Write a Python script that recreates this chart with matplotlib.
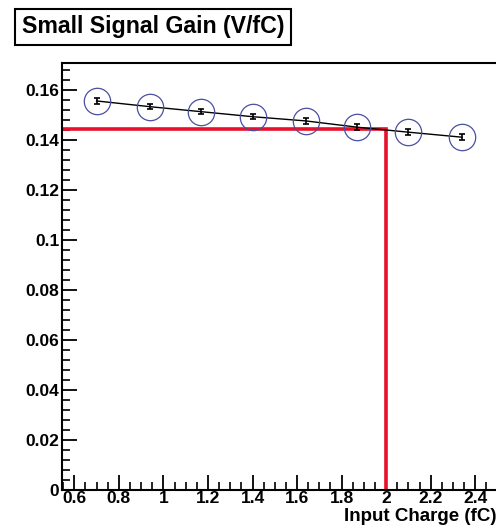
import numpy as np
import matplotlib.pyplot as plt
from matplotlib.ticker import MultipleLocator

# data
charge = [0.70, 0.94, 1.17, 1.40, 1.64, 1.87, 2.10, 2.34]
gain = [0.1556, 0.1533, 0.1513, 0.1493, 0.1476, 0.1451, 0.1431, 0.1411]
gain_err = [0.0012, 0.0011, 0.0011, 0.0010, 0.0011, 0.0011, 0.0011, 0.0012]

ref_charge = 2.0
ref_gain = 0.1444

xticks = [0.6, 0.8, 1.0, 1.2, 1.4, 1.6, 1.8, 2.0, 2.2, 2.4]
xtick_labels = ["0.6", "0.8", "1", "1.2", "1.4", "1.6", "1.8", "2", "2.2", "2.4"]
yticks = [0, 0.02, 0.04, 0.06, 0.08, 0.1, 0.12, 0.14, 0.16]
ytick_labels = ["0", "0.02", "0.04", "0.06", "0.08", "0.1", "0.12", "0.14", "0.16"]

plt.rcParams.update({
    "font.family": ["Liberation Sans", "DejaVu Sans"],
    "font.weight": "bold",
})

fig = plt.figure(figsize=(4.96, 5.29), dpi=100)
ax = fig.add_axes([0.125, 0.074, 0.876, 0.807])

x0, x1 = 0.545, 2.495
ax.set_xlim(x0, x1)
ax.set_ylim(0, 0.1708)

# markers and connecting line
ax.plot(charge, gain, color="black", lw=1, zorder=3)
ax.errorbar(charge, gain, yerr=gain_err, fmt="none", ecolor="black",
            elinewidth=1.2, capsize=2.5, capthick=1.2, zorder=4)
ax.plot(charge, gain, "o", mfc="none", mec="#4a4fa0", ms=19, mew=0.9, zorder=4)

# red guide lines
ax.plot([x0, ref_charge, ref_charge], [ref_gain, ref_gain, 0],
        color="#e8102a", lw=2.6, zorder=2, solid_joinstyle="miter")

ax.xaxis.set_minor_locator(MultipleLocator(0.05))
ax.yaxis.set_minor_locator(MultipleLocator(0.004))
ax.set_xticks(xticks)
ax.set_xticklabels(xtick_labels)
ax.set_yticks(yticks)
ax.set_yticklabels(ytick_labels)

ax.tick_params(which="both", direction="in", colors="black", labelsize=12.5)
ax.tick_params(which="major", length=11, width=1.3)
ax.tick_params(which="minor", length=6, width=1.2)
ax.tick_params(axis="x", pad=1)
ax.tick_params(axis="y", pad=2)

for s in ["left", "bottom", "top"]:
    ax.spines[s].set_linewidth(1.5)
ax.spines["right"].set_visible(False)

ax.set_xlabel("Input Charge (fC)", fontsize=13.5, fontweight="bold",
              loc="right", labelpad=1)

fig.text(0.044, 0.949, "Small Signal Gain (V/fC)", fontsize=16.7,
         fontweight="bold", va="center", ha="left",
         bbox=dict(boxstyle="square,pad=0.3", fc="white", ec="black", lw=1.5))

fig.savefig("out.png", dpi=100)
